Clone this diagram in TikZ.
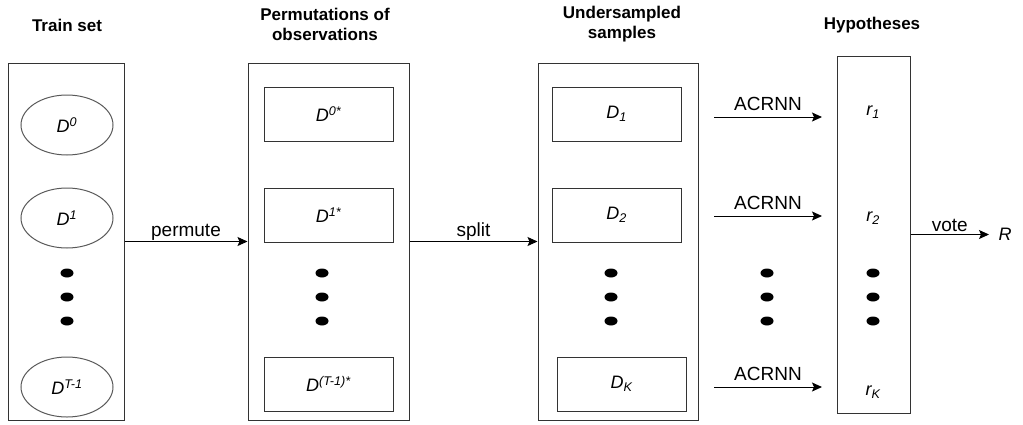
\documentclass[tikz,border=0pt]{standalone}
\usepackage{fontspec}
\setmainfont{Liberation Sans}
\usetikzlibrary{arrows.meta,shapes.geometric,shadows}

\begin{document}
\begin{tikzpicture}[x=1pt,y=-1pt,line width=1pt,>={Stealth[length=10pt,width=9pt,inset=2pt]},
  colbox/.style={draw=black!80,minimum width=#1,minimum height=357pt,inner sep=0pt},
  setell/.style={ellipse,draw=black!65,minimum width=92pt,minimum height=60pt,inner sep=0pt,font=\fontsize{18}{20}\selectfont\itshape},
  setbox/.style={draw=black!80,minimum width=129pt,minimum height=54pt,inner sep=0pt,font=\fontsize{18}{20}\selectfont\itshape},
  hyplbl/.style={font=\fontsize{18}{20}\selectfont\itshape},
  coltitle/.style={align=center,font=\fontsize{17}{20}\selectfont\bfseries},
  lbl/.style={inner sep=0pt,text depth=0pt,font=\fontsize{19}{20}\selectfont}]
\useasboundingbox (0,0) rectangle (1023,424);
% ---------- 四列外框 ----------
\node[colbox=116pt] (train) at (66,241.5) {};
\node[colbox=161pt] (perm) at (328.5,241.5) {};
\node[colbox=160pt] (under) at (618,241.5) {};
\node[colbox=73pt] (hyp) at (873.5,234.5) {};
% 标题
\node[coltitle] (ttrain) at (67,25) {Train set};
\node[coltitle] (tperm) at (325,24) {Permutations of\\observations};
\node[coltitle] (tunder) at (622,24) {Undersampled\\samples};
\node[coltitle] (thyp) at (872,25) {Hypotheses};
% ---------- 训练集（椭圆） ----------
\node[setell] (t0) at (67,125) {D\textsuperscript{0}};
\node[setell] (t1) at (67,218) {D\textsuperscript{1}};
\node[setell] (tT) at (67,387) {D\textsuperscript{T-1}};
% ---------- 排列 ----------
\node[setbox] (p0) at (328.5,114) {D\textsuperscript{0*}};
\node[setbox] (p1) at (328.5,215) {D\textsuperscript{1*}};
\node[setbox] (pT) at (328.5,384) {D\textsuperscript{(T-1)*}};
% ---------- 欠采样样本（带阴影） ----------
\node[setbox,drop shadow={opacity=0.2,shadow xshift=1pt,shadow yshift=-1pt},fill=white] (d1) at (616.5,114) {D\textsubscript{1}};
\node[setbox,drop shadow={opacity=0.2,shadow xshift=1pt,shadow yshift=-1pt},fill=white] (d2) at (616.5,215) {D\textsubscript{2}};
\node[setbox,drop shadow={opacity=0.2,shadow xshift=1pt,shadow yshift=-1pt},fill=white] (dK) at (621.5,384) {D\textsubscript{K}};
% ---------- 假设 ----------
\node[hyplbl] (r1) at (873,112) {r\textsubscript{1}};
\node[hyplbl] (r2) at (873,218) {r\textsubscript{2}};
\node[hyplbl] (rK) at (873,392) {r\textsubscript{K}};
\node[hyplbl,inner xsep=9pt] (R) at (1005,234.5) {R};
% 省略号圆点
\foreach \x in {67,322,611,767,873}
  \foreach \y in {273,297,321}
    \fill (\x,\y) ellipse (6.5 and 4.5);
% ---------- 箭头 ----------
\draw[->] (train) -- node[lbl,above=5pt] {permute} (perm);
\draw[->] (perm) -- node[lbl,above=5pt] {split} (under);
\draw[->] (hyp) -- node[lbl,above=3pt] {vote} (R);
\foreach \y/\n in {117/1,216/2,387/K}{
  \coordinate (s\n) at (714,\y);
  \coordinate (e\n) at (822,\y);
  \draw[->] (s\n) -- node[lbl,above=6pt] {ACRNN} (e\n);
}
\end{tikzpicture}
\end{document}
